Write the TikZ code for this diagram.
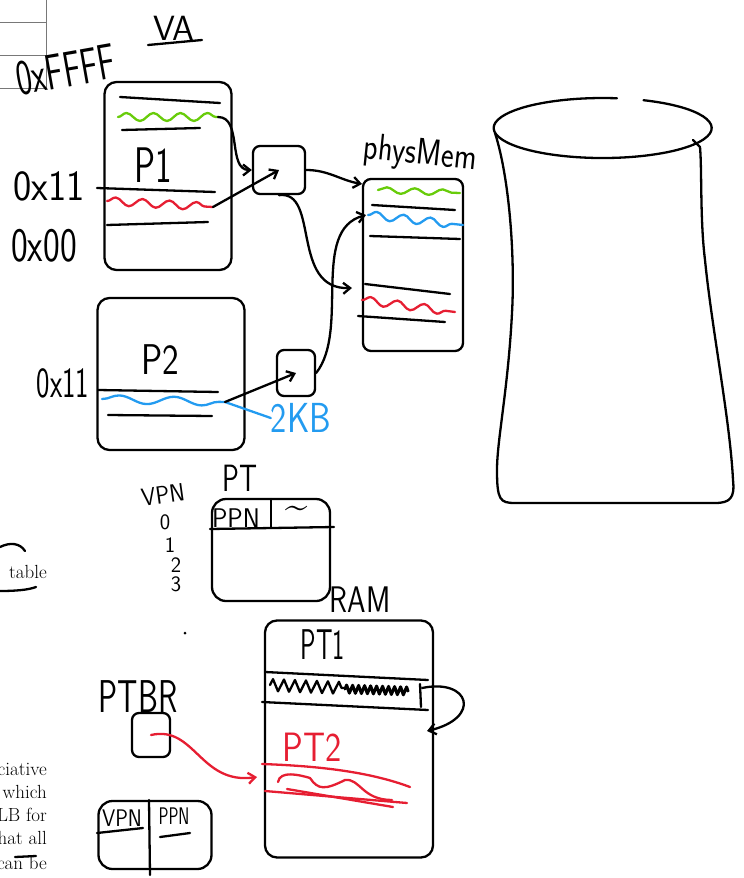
\documentclass[tikz,border=0pt]{standalone}
\usepackage{fontspec}
\usetikzlibrary{arrows.meta,positioning}
\usetikzlibrary{decorations.pathmorphing}

\definecolor{inkGreen}{RGB}{104,204,10}
\definecolor{inkRed}{RGB}{230,30,50}
\definecolor{inkBlue}{RGB}{35,155,240}
\definecolor{pageGray}{RGB}{120,120,120}

\begin{document}
\begin{tikzpicture}[
    x=1pt, y=-1pt,
    node distance=2pt,
    ink/.style={line width=2.3pt,line cap=round,line join=round},
    membox/.style={ink,draw,rounded corners=12pt,inner sep=0pt},
    reg/.style={ink,draw,rounded corners=7pt,inner sep=0pt},
    hand/.style={font=\sffamily\fontsize{#1}{#1}\selectfont,inner sep=0pt},
    wave/.style={ink,decorate,decoration={snake,amplitude=4pt,segment length=27pt}},
    map/.style={ink,-{Straight Barb[length=7pt,width=11pt]}},
    pagetext/.style={font=\fontsize{19}{23}\selectfont,inner sep=0pt,anchor=base east},
]

\useasboundingbox (0,0) rectangle (744,878);

%----------------------------------
% Page underneath
%----------------------------------

\draw[pageGray,line width=0.8pt] (0,22) -- (46,22) (0,55) -- (46,55) (0,88) -- (46,88) (46,0) -- (46,88);

\node[pagetext] (pgTable) at (47,578) {table};
\draw[ink] (0,547) .. controls (10,542) and (20,543) .. (25,551);
\draw[ink] (0,591) .. controls (15,591) and (28,590) .. (36,587);

\node[pagetext] (pgLine1) at (47,775) {ciative};
\node[pagetext] (pgLine2) at (47,798) {which};
\node[pagetext] (pgLine3) at (47,821) {LB for};
\node[pagetext] (pgLine4) at (47,844) {hat all};
\node[pagetext] (pgLine5) at (47,869) {can be};
\draw[ink] (15,857) -- (36,856);

%----------------------------------
% Virtual address space of P1
%----------------------------------

\node[hand=50,rotate=10] (vaTop) at (66,70) {\scalebox{0.66}[1]{0xFFFF}};
\node[hand=35] (vaLbl) at (174,28) {VA};
\draw[ink] (148,45) -- (202,40);

\node[membox,minimum width=127pt,minimum height=188pt] (p1Box) at (168,176) {};

\draw[ink] (120,97) -- (220,103);
\coordinate (p1Green) at (218,117);
\draw[wave,inkGreen] (118,117) -- (p1Green);
\draw[ink] (122,130) -- (200,128);
\node[hand=50,xscale=0.7] (p1Lbl) at (153,165) {P1};
\draw[ink] (97,188) -- (215,192);
\coordinate (p1Red) at (213,207);
\draw[wave,inkRed] (107,201) -- (p1Red);
\draw[ink] (107,225) -- (208,222);

\node[hand=43,xscale=0.9] (p1Hi) at (49,186) {0x11};
\node[hand=48,xscale=0.74] (p1Lo) at (44,246) {0x00};

\node[reg,minimum width=52pt,minimum height=48pt] (p1Reg) at (279,170) {};

%----------------------------------
% Virtual address space of P2
%----------------------------------

\node[membox,minimum width=147pt,minimum height=152pt] (p2Box) at (171,374) {};

\node[hand=43,xscale=0.82] (p2Lbl) at (160,360) {P2};
\draw[ink] (98,390) -- (218,392);
\coordinate (p2Blue) at (225,402);
\draw[wave,inkBlue,decoration={amplitude=4pt,segment length=55pt}] (102,399) -- (p2Blue);
\draw[ink] (108,415) -- (212,416);

\node[hand=43,xscale=0.66] (p2Hi) at (63,383) {0x11};
\node[hand=42,xscale=0.82,text=inkBlue] (kbLbl) at (301,418) {2KB};
\draw[ink,inkBlue] (kbLbl.west) -- (p2Blue);

\node[reg,minimum width=38pt,minimum height=46pt] (p2Reg) at (296,373) {};

%----------------------------------
% Physical memory
%----------------------------------

\node[membox,rounded corners=8pt,minimum width=100pt,minimum height=172pt] (pmBox) at (413,265) {};
\node[hand=37,rotate=-6] (pmLbl) at (420,155) {\scalebox{0.82}[1]{physMem}};

\coordinate (pmGreen) at (362,184);
\draw[wave,inkGreen,decoration={amplitude=3pt,segment length=28pt}] (378,190) -- (460,193);
\draw[ink] (372,205) -- (455,210);
\coordinate (pmBlue) at (366,215);
\draw[wave,inkBlue] (368,215) -- (463,225);
\draw[ink] (370,236) -- (460,239);
\draw[ink] (365,284) -- (450,294);
\coordinate (pmRed) at (352,288);
\draw[wave,inkRed] (362,300) -- (455,312);
\draw[ink] (358,316) -- (445,322);

%----------------------------------
% Translation arrows
%----------------------------------

\draw[map] (p1Green) to[out=0,in=180] (p1Reg.west);
\draw[map] (p1Red) -- (p1Reg.center);
\draw[map] (p1Reg.east) to[out=0,in=170] (pmGreen);
\draw[map] (p1Reg.south) .. controls (320,190) and (290,290) .. (pmRed);

\draw[map] (p2Blue) -- (p2Reg.center);
\draw[map] (p2Reg.east) .. controls (350,330) and (310,230) .. (pmBlue);

%----------------------------------
% Disk
%----------------------------------

\draw[ink] (643.5,100.2) arc[start angle=-68,end angle=277.5,x radius=109,y radius=30];
\draw[ink] (495,133) .. controls (510,180) and (515,260) .. (512,313)
    .. controls (508,390) and (497,440) .. (497,470)
    .. controls (497,500) and (500,503) .. (515,503) -- (715,503)
    .. controls (730,503) and (735,498) .. (733,480)
    .. controls (730,420) and (712,330) .. (705,260)
    .. controls (700,220) and (702,170) .. (700,147) -- (693,140);

%----------------------------------
% Page table
%----------------------------------

\node[hand=25,rotate=8] (vpnLbl) at (163,495) {\scalebox{0.92}[1]{VPN}};
\node[hand=22] (vpn0) at (165,522) {0};
\node[hand=22] (vpn1) at (170,545) {1};
\node[hand=22] (vpn2) at (176,565) {2};
\node[hand=22] (vpn3) at (176,584) {3};

\node[hand=38,xscale=0.74] (ptLbl) at (240,478) {PT};
\node[membox,rounded corners=14pt,minimum width=118pt,minimum height=102pt] (ptBox) at (271,550) {};
\draw[ink] (210,529) -- (334,527);
\draw[ink] (271,499) -- (271,528);
\node[hand=27,xscale=0.95] (ppnHdr) at (236,518) {PPN};
\node[hand=40] (ptTilde) at (297,512) {\textasciitilde};

\fill (185,633) circle (1.5pt);

%----------------------------------
% RAM holding the page tables
%----------------------------------

\node[hand=37,xscale=0.8] (ramLbl) at (360,600) {RAM};
\node[membox,minimum width=168pt,minimum height=237pt] (ramBox) at (349,739) {};

\node[hand=43,xscale=0.6] (pt1Lbl) at (323,645) {PT1};
\draw[ink] (265,672) -- (428,680);
\draw[ink] (262,702) -- (428,710);
\draw[ink,decorate,decoration={zigzag,amplitude=6pt,segment length=11pt}] (270,685) -- (345,688);
\draw[ink,line width=3pt,decorate,decoration={zigzag,amplitude=4pt,segment length=6pt}] (345,689) -- (408,691);
\draw[ink] (420,684) -- (421,707);

\coordinate (pt1Row) at (422,688);
\coordinate (pt2Top) at (427,731);
\draw[map] (pt1Row) .. controls (470,678) and (482,718) .. (pt2Top);

\node[hand=41,xscale=0.84,text=inkRed] (pt2Lbl) at (312,747) {PT2};
\draw[ink,inkRed] (262,764) .. controls (320,766) and (370,772) .. (410,787);
\draw[ink,inkRed] (278,782) .. controls (280,770) and (300,775) .. (310,778)
    .. controls (318,790) and (325,790) .. (345,780)
    .. controls (360,778) and (362,800) .. (392,800);
\draw[ink,inkRed] (265,791) -- (407,803);
\draw[ink,inkRed] (287,789) -- (393,807);

%----------------------------------
% Page table base register
%----------------------------------

\node[hand=46,xscale=0.69] (ptbrLbl) at (138,697) {PTBR};
\node[reg,minimum width=38pt,minimum height=44pt] (ptbrBox) at (151,735) {};

\coordinate (pt2Row) at (257,777);
\draw[map,inkRed] (ptbrBox.center) .. controls (195,725) and (200,785) .. (pt2Row);

%----------------------------------
% TLB
%----------------------------------

\node[membox,rounded corners=14pt,minimum width=113pt,minimum height=68pt] (tlbBox) at (155,835) {};
\draw[ink] (149,800) -- (150,875);
\node[hand=24,xscale=0.88] (tlbVpn) at (122,818) {VPN};
\node[hand=24,xscale=0.69] (tlbPpn) at (174,816) {PPN};
\draw[ink] (97,833) -- (143,828);
\draw[ink] (160,837) -- (190,833);

\end{tikzpicture}
\end{document}
